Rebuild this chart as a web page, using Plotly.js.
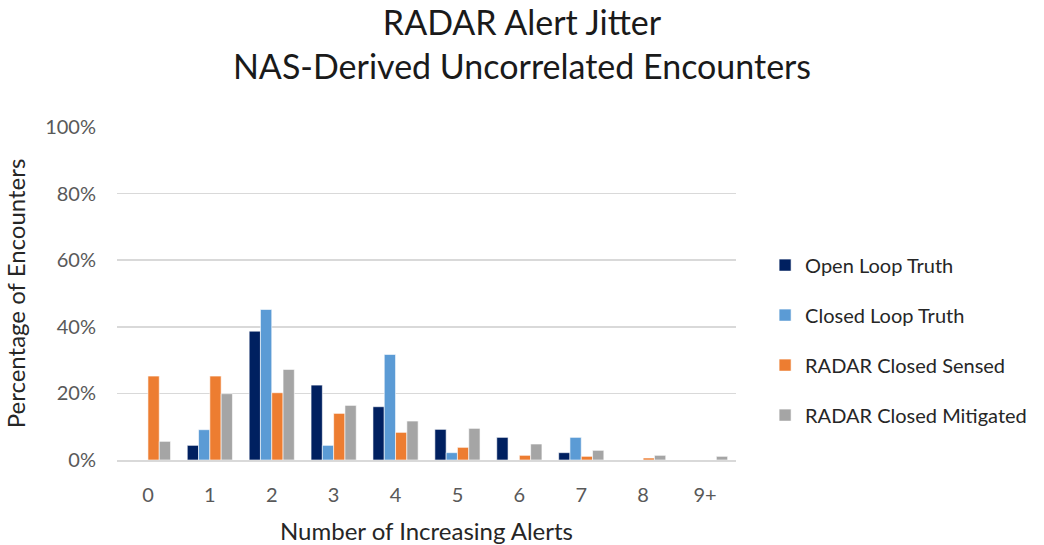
<!DOCTYPE html>
<html>
<head>
<meta charset="utf-8">
<script src="https://cdn.plot.ly/plotly-3.0.1.min.js"></script>
<style>html,body{margin:0;padding:0;background:#fff;}#chart{width:1044px;height:545px;}</style>
</head>
<body>
<div id="chart"></div>
<script>
const categories = ["0","1","2","3","4","5","6","7","8","9+"];
const openLoopTruth = [0, 0.044, 0.387, 0.225, 0.160, 0.092, 0.068, 0.022, 0, 0];
const closedLoopTruth = [0, 0.091, 0.452, 0.044, 0.317, 0.022, 0, 0.068, 0, 0];
const radarClosedSensed = [0.252, 0.252, 0.202, 0.140, 0.083, 0.038, 0.014, 0.011, 0.006, 0];
const radarClosedMitigated = [0.056, 0.199, 0.272, 0.164, 0.117, 0.095, 0.048, 0.029, 0.014, 0.011];
const seriesNames = ["Open Loop Truth","Closed Loop Truth","RADAR Closed Sensed","RADAR Closed Mitigated"];
const seriesColors = ["#002060","#5B9BD5","#ED7D31","#A5A5A5"];
const seriesValues = [openLoopTruth, closedLoopTruth, radarClosedSensed, radarClosedMitigated];
const yTickVals = [0,0.2,0.4,0.6,0.8,1];
const yTickText = ['0%','20%','40%','60%','80%','100%'];

const font = "Lato, 'Liberation Sans', sans-serif";
const traces = seriesValues.map((v,i)=>({
  type:'bar', x:categories, y:v, name:seriesNames[i], legendgroup:'g'+i,
  marker:{color:seriesColors[i], line:{color:'#ffffff', width:0.6}},
  hoverinfo:'x+y+name'
}));
const layout = {
  width:1044, height:545,
  margin:{l:117, r:305, t:127, b:85},
  paper_bgcolor:'#fff', plot_bgcolor:'#fff',
  font:{family:font, color:'#595959', size:20},
  title:{text:'RADAR Alert Jitter<br>NAS-Derived Uncorrelated Encounters', x:0.5, xref:'container', xanchor:'center',
    yref:'container', y:1-35/545, yanchor:'middle',
    font:{family:font, size:34, color:'#1a1a1a'}},
  barmode:'group', bargap:0.27, bargroupgap:0,
  xaxis:{type:'category', showgrid:false, zeroline:false, showline:true, linecolor:'#d9d9d9', linewidth:1.5,
    ticks:'', ticklabelstandoff:16, tickfont:{size:20, color:'#595959'},
    title:{text:'Number of Increasing Alerts', font:{size:24, color:'#262626'}, standoff:18}},
  yaxis:{range:[0,1], tickvals:yTickVals, ticktext:yTickText,
    showgrid:true, gridcolor:'#d9d9d9', gridwidth:1.5, zeroline:false, showline:false, ticks:'',
    ticklabelstandoff:20, tickfont:{size:20, color:'#595959'},
    title:{text:'Percentage of Encounters', font:{size:24, color:'#262626'}, standoff:12}},
  legend:{x:1.047, xanchor:'left', y:0.36, yanchor:'middle', traceorder:'grouped', tracegroupgap:21,
    font:{size:20, color:'#262626'}, bgcolor:'rgba(0,0,0,0)'},
  showlegend:true
};
Plotly.newPlot('chart', traces, layout, {displayModeBar:false, staticPlot:true});
</script>
</body>
</html>
